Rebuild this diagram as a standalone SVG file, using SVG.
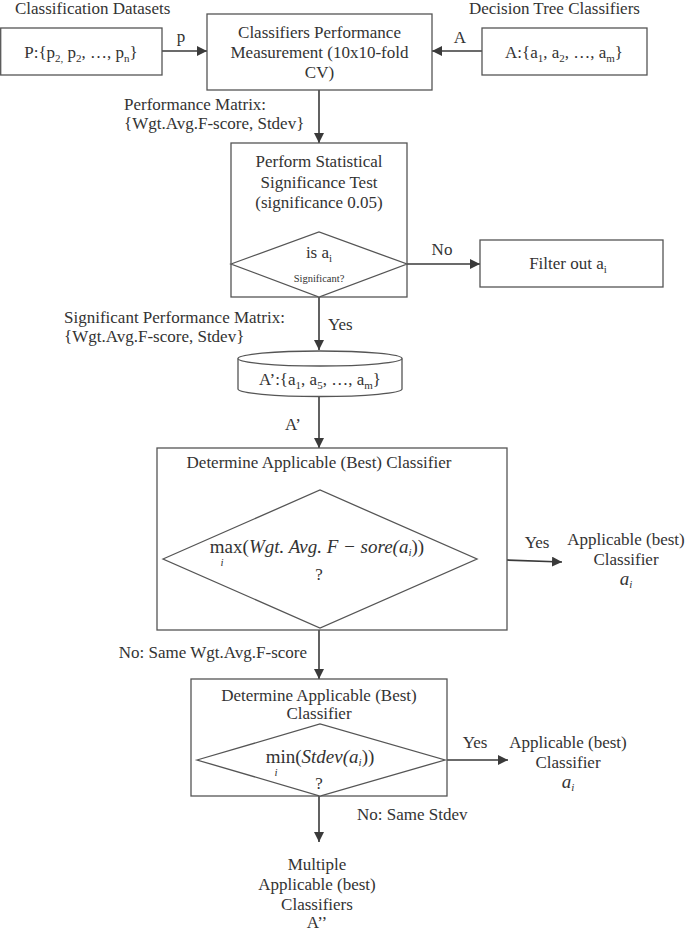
<svg xmlns="http://www.w3.org/2000/svg" width="685" height="933" viewBox="0 0 685 933">
<defs>
<style>
text{font-family:"Liberation Serif","Times New Roman",serif;font-size:17px;fill:#333}
.c{text-anchor:middle}
.box{fill:#fff;stroke:#555;stroke-width:1.3}
.ln{fill:none;stroke:#3a3a3a;stroke-width:1.6}
.m{font-size:19px}
.it{font-style:italic}
.sm{font-size:10.5px}
.sub{font-size:11px}
</style>
<marker id="ah" viewBox="0 0 10 10" refX="10" refY="5" markerWidth="10" markerHeight="10" markerUnits="userSpaceOnUse" orient="auto">
<path d="M0,0 L10,5 L0,10 Z" fill="#3a3a3a"/>
</marker>
</defs>
<rect width="685" height="933" fill="#fff"/>

<text x="15" y="14">Classification Datasets</text>
<text x="469" y="14">Decision Tree Classifiers</text>

<g id="connectors">
<line class="ln" x1="162" y1="51" x2="207" y2="51" marker-end="url(#ah)"/>
<text x="181" y="42" class="c">p</text>
<line class="ln" x1="482" y1="51" x2="432" y2="51" marker-end="url(#ah)"/>
<text x="460" y="43" class="c">A</text>
<line class="ln" x1="319" y1="90" x2="319" y2="143" marker-end="url(#ah)"/>
<text x="124" y="110">Performance Matrix:</text>
<text x="124" y="129">{Wgt.Avg.F-score, Stdev}</text>
<line class="ln" x1="407" y1="264" x2="480" y2="264" marker-end="url(#ah)"/>
<text x="442" y="255" class="c">No</text>
<line class="ln" x1="319" y1="297" x2="319" y2="350" marker-end="url(#ah)"/>
<text x="328" y="330">Yes</text>
<text x="64" y="323">Significant Performance Matrix:</text>
<text x="64" y="342">{Wgt.Avg.F-score, Stdev}</text>
<line class="ln" x1="319" y1="397" x2="319" y2="448" marker-end="url(#ah)"/>
<text x="293" y="430" class="c">A’</text>
<line class="ln" x1="477" y1="559" x2="562" y2="562" marker-end="url(#ah)"/>
<text x="537" y="548" class="c">Yes</text>
<line class="ln" x1="319" y1="630" x2="319" y2="679" marker-end="url(#ah)"/>
<text x="307" y="658" text-anchor="end">No: Same Wgt.Avg.F-score</text>
<line class="ln" x1="445" y1="760" x2="508" y2="760" marker-end="url(#ah)"/>
<text x="475" y="748" class="c">Yes</text>
<line class="ln" x1="319" y1="796" x2="319" y2="842" marker-end="url(#ah)"/>
<text x="357" y="820">No: Same Stdev</text>
</g>

<g id="datasets">
<rect class="box" x="0.7" y="28" width="161.3" height="47"/>
<text x="81" y="58" class="c">P:{p<tspan class="sub" dy="4">2,</tspan><tspan dy="-4"> p</tspan><tspan class="sub" dy="4">2</tspan><tspan dy="-4">, …, p</tspan><tspan class="sub" dy="4">n</tspan><tspan dy="-4">}</tspan></text>
</g>

<g id="measurement">
<rect class="box" x="207" y="14" width="225" height="76"/>
<text x="319.5" y="38" class="c">Classifiers Performance</text>
<text x="319.5" y="58" class="c">Measurement (10x10-fold</text>
<text x="319.5" y="78" class="c">CV)</text>
</g>

<g id="classifiers">
<rect class="box" x="482" y="28" width="165" height="47"/>
<text x="564" y="58" class="c">A:{a<tspan class="sub" dy="4">1</tspan><tspan dy="-4">, a</tspan><tspan class="sub" dy="4">2</tspan><tspan dy="-4">, …, a</tspan><tspan class="sub" dy="4">m</tspan><tspan dy="-4">}</tspan></text>
</g>

<g id="significance">
<rect class="box" x="231" y="143" width="176" height="154"/>
<text x="319" y="167" class="c">Perform Statistical</text>
<text x="319" y="188" class="c">Significance Test</text>
<text x="319" y="208" class="c">(significance 0.05)</text>
<polygon class="box" points="231,264 319,232 407,264 319,297"/>
<text x="319" y="258" class="c">is a<tspan class="sub" dy="4">i</tspan></text>
<text x="319" y="282" class="c sm">Significant?</text>
</g>

<g id="filter">
<rect class="box" x="480" y="240" width="183" height="47"/>
<text x="568" y="269" class="c">Filter out a<tspan class="sub" dy="4">i</tspan></text>
</g>

<g id="significant-set">
<path class="box" d="M238,358.5 V389 A82,7.5 0 0 0 402,389 V358.5"/>
<ellipse class="box" cx="320" cy="358.5" rx="82" ry="7.5"/>
<text x="320" y="385" class="c">A’:{a<tspan class="sub" dy="4">1</tspan><tspan dy="-4">, a</tspan><tspan class="sub" dy="4">5</tspan><tspan dy="-4">, …, a</tspan><tspan class="sub" dy="4">m</tspan><tspan dy="-4">}</tspan></text>
</g>

<g id="best-fscore">
<rect class="box" x="157" y="448" width="350" height="182"/>
<text x="319" y="468" class="c">Determine Applicable (Best) Classifier</text>
<polygon class="box" points="163,559 320,490 477,559 320,628"/>
<text x="317" y="553" class="c m">max(<tspan class="it">Wgt. Avg. F − sore(a</tspan><tspan class="it sub" dy="3">i</tspan><tspan dy="-3">))</tspan></text>
<text x="222" y="566" class="c it sub">i</text>
<text x="319" y="580" class="c">?</text>
</g>

<g id="result-1">
<text x="626" y="545" class="c">Applicable (best)</text>
<text x="626" y="565" class="c">Classifier</text>
<text x="626" y="585" class="c m it">a<tspan class="sub" dy="3">i</tspan></text>
</g>

<g id="best-stdev">
<rect class="box" x="191" y="679" width="256" height="117"/>
<text x="319" y="701" class="c" font-size="16">Determine Applicable (Best)</text>
<text x="319" y="719" class="c" font-size="16">Classifier</text>
<polygon class="box" points="197,760 320,724 445,760 320,796"/>
<text x="320" y="763" class="c m">min(<tspan class="it">Stdev(a</tspan><tspan class="it sub" dy="3">i</tspan><tspan dy="-3">))</tspan></text>
<text x="276" y="776" class="c it sub">i</text>
<text x="319" y="789" class="c">?</text>
</g>

<g id="result-2">
<text x="568" y="748" class="c">Applicable (best)</text>
<text x="568" y="768" class="c">Classifier</text>
<text x="568" y="788" class="c m it">a<tspan class="sub" dy="3">i</tspan></text>
</g>

<g id="result-multiple">
<text x="317" y="870" class="c">Multiple</text>
<text x="317" y="890" class="c">Applicable (best)</text>
<text x="317" y="910" class="c">Classifiers</text>
<text x="317" y="928" class="c">A’’</text>
</g>
</svg>
